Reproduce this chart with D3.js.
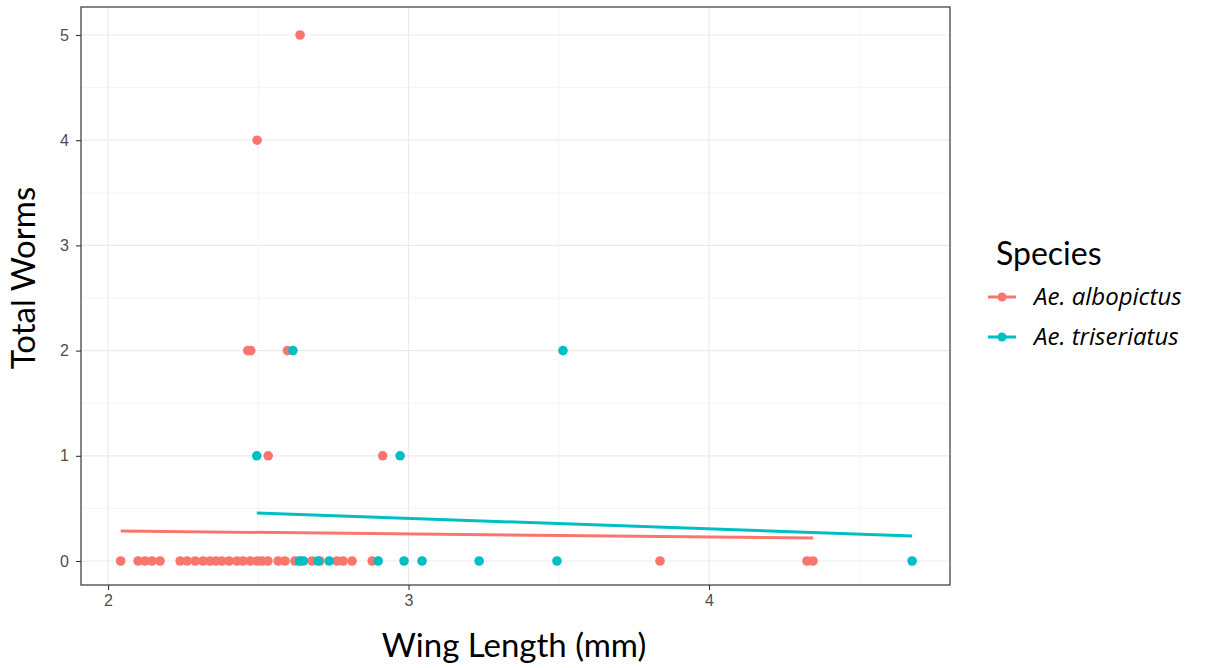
<!DOCTYPE html>
<html><head><meta charset="utf-8">
<script src="https://cdn.jsdelivr.net/npm/d3@7"></script>
<style>body{margin:0;background:#fff}svg{display:block}</style>
</head><body><div id="chart"></div>
<script>
const species = ["Ae. albopictus", "Ae. triseriatus"];
const colors = ["#F8766D", "#00BFC4"];
const xTicks = [2, 3, 4];
const yTicks = [0, 1, 2, 3, 4, 5];

// Ae. albopictus
const alboWing = [2.042,2.100,2.123,2.146,2.173,2.240,2.263,2.290,2.316,2.339,2.359,2.379,2.403,2.429,2.449,2.473,2.496,2.512,2.532,2.566,2.589,2.622,2.639,2.679,2.705,2.762,2.782,2.812,2.879,3.837,4.326,4.346,
  2.465,2.475,2.597,2.533,2.914,2.496,2.639];
const alboWorms = [0,0,0,0,0,0,0,0,0,0,0,0,0,0,0,0,0,0,0,0,0,0,0,0,0,0,0,0,0,0,0,0,
  2,2,2,1,1,4,5];
// Ae. triseriatus
const triWing = [2.637,2.650,2.699,2.736,2.899,2.985,3.045,3.235,3.494,4.676,2.495,2.972,2.615,3.514];
const triWorms = [0,0,0,0,0,0,0,0,0,0,1,1,2,2];

// fitted linear trend endpoints (wing, fitted worms)
const alboFitX = [2.042, 4.346];
const alboFitY = [0.285, 0.219];
const triFitX = [2.495, 4.676];
const triFitY = [0.456, 0.238];

const W = 1209, H = 668;
const m = {left: 81, right: 950, top: 7, bottom: 585};
const svg = d3.select("#chart").append("svg").attr("width", W).attr("height", H);
const x = d3.scaleLinear().domain([1.91, 4.802]).range([m.left, m.right]);
const y = d3.scaleLinear().domain([-0.228, 5.266]).range([m.bottom, m.top]);

const grid = svg.append("g");
// minor grid
[2.5, 3.5, 4.5].forEach(v => grid.append("line").attr("x1", x(v)).attr("x2", x(v)).attr("y1", m.top).attr("y2", m.bottom).attr("stroke", "#F2F2F2").attr("stroke-width", 0.8));
[0.5, 1.5, 2.5, 3.5, 4.5].forEach(v => grid.append("line").attr("y1", y(v)).attr("y2", y(v)).attr("x1", m.left).attr("x2", m.right).attr("stroke", "#F2F2F2").attr("stroke-width", 0.8));
// major grid
xTicks.forEach(v => grid.append("line").attr("x1", x(v)).attr("x2", x(v)).attr("y1", m.top).attr("y2", m.bottom).attr("stroke", "#EBEBEB").attr("stroke-width", 1.2));
yTicks.forEach(v => grid.append("line").attr("y1", y(v)).attr("y2", y(v)).attr("x1", m.left).attr("x2", m.right).attr("stroke", "#EBEBEB").attr("stroke-width", 1.2));

const series = [
  {wing: alboWing, worms: alboWorms, fx: alboFitX, fy: alboFitY, c: colors[0]},
  {wing: triWing, worms: triWorms, fx: triFitX, fy: triFitY, c: colors[1]}
];
series.forEach(s => {
  svg.append("g").selectAll("circle").data(s.wing.map((w, i) => [w, s.worms[i]])).join("circle")
    .attr("cx", d => x(d[0])).attr("cy", d => y(d[1])).attr("r", 4.8).attr("fill", s.c);
});
series.forEach(s => {
  svg.append("path").datum(s.fx.map((v, i) => [v, s.fy[i]]))
    .attr("d", d3.line().x(d => x(d[0])).y(d => y(d[1])))
    .attr("stroke", s.c).attr("stroke-width", 3).attr("fill", "none");
});

// border
svg.append("rect").attr("x", m.left).attr("y", m.top).attr("width", m.right - m.left).attr("height", m.bottom - m.top)
  .attr("fill", "none").attr("stroke", "#444").attr("stroke-width", 1.3);

// axes
const xa = svg.append("g").attr("transform", `translate(0,${m.bottom})`)
  .call(d3.axisBottom(x).tickValues(xTicks).tickFormat(d3.format("d")).tickSize(5).tickPadding(5));
const ya = svg.append("g").attr("transform", `translate(${m.left},0)`)
  .call(d3.axisLeft(y).tickValues(yTicks).tickFormat(d3.format("d")).tickSize(5).tickPadding(7));
[xa, ya].forEach(a => {
  a.select(".domain").remove();
  a.selectAll("line").attr("stroke", "#333").attr("stroke-width", 1.1);
  a.selectAll("text").attr("fill", "#4D4D4D").style("font-family", "Liberation Sans, Arial, sans-serif").style("font-size", "16px");
});

// titles
svg.append("text").attr("x", 514).attr("y", 657).attr("text-anchor", "middle")
  .style("font-family", "Lato, sans-serif").style("font-size", "33px").attr("fill", "#000").text("Wing Length (mm)");
svg.append("text").attr("transform", "translate(35,278) rotate(-90)").attr("text-anchor", "middle")
  .style("font-family", "Lato, sans-serif").style("font-size", "33px").attr("fill", "#000").text("Total Worms");

// legend
svg.append("text").attr("x", 996).attr("y", 265).style("font-family", "Lato, sans-serif").style("font-size", "32px").text("Species");
species.forEach((s, i) => {
  const ly = 297 + i * 40;
  svg.append("line").attr("x1", 988).attr("x2", 1016).attr("y1", ly).attr("y2", ly).attr("stroke", colors[i]).attr("stroke-width", 3);
  svg.append("circle").attr("cx", 1002).attr("cy", ly).attr("r", 4.5).attr("fill", colors[i]);
  svg.append("text").attr("x", 1034).attr("y", ly + 8).style("font-family", "Open Sans, sans-serif").style("font-style", "italic").style("font-size", "24px").text(s);
});
</script></body></html>
